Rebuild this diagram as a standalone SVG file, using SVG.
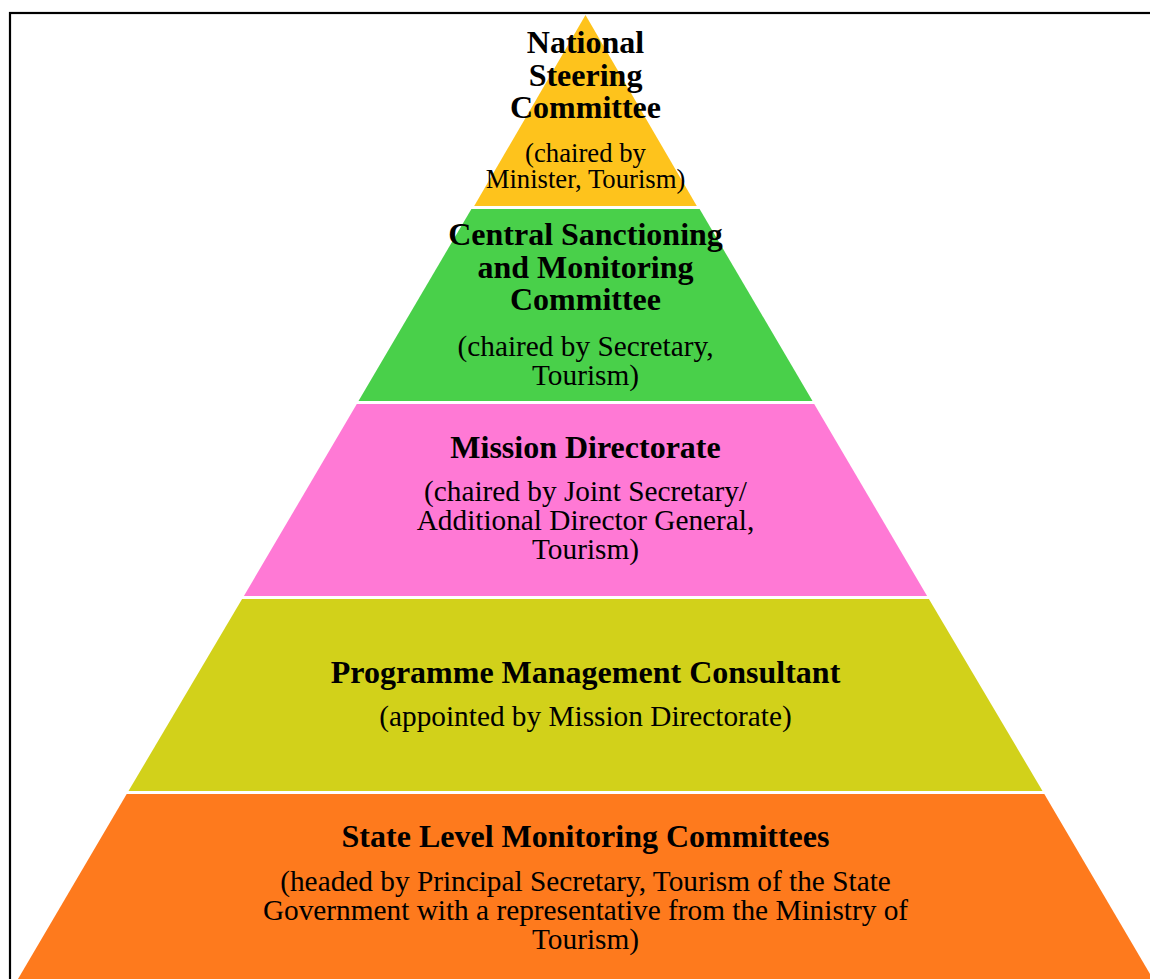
<svg xmlns="http://www.w3.org/2000/svg" width="1150" height="979" viewBox="0 0 1150 979">
<style>
.t{font-family:"Liberation Serif","Times New Roman",serif;font-weight:bold;font-size:32px;fill:#000;text-anchor:middle}
.s{font-family:"Liberation Serif","Times New Roman",serif;font-size:29.3px;fill:#000;text-anchor:middle}
.s2{font-family:"Liberation Serif","Times New Roman",serif;font-size:26.7px;fill:#000;text-anchor:middle}
</style>
<rect x="0" y="0" width="1150" height="979" fill="#fff"/>
<rect x="10" y="13" width="1160" height="1000" fill="none" stroke="#000" stroke-width="2.2"/>
<g id="national-steering-committee">
<polygon points="585.5,15 696.8,206 474.2,206" fill="#FEC31C"/>
<text class="t" x="585.5" y="53">National</text>
<text class="t" x="585.5" y="85.5">Steering</text>
<text class="t" x="585.5" y="118">Committee</text>
<text class="s2" x="585.5" y="162">(chaired by</text>
<text class="s2" x="585.5" y="188">Minister, Tourism)</text>
</g>
<g id="central-sanctioning-committee">
<polygon points="471.4,209 699.6,209 812.5,401 358.5,401" fill="#49D04A"/>
<text class="t" x="585.5" y="244.5">Central Sanctioning</text>
<text class="t" x="585.5" y="277.5">and Monitoring</text>
<text class="t" x="585.5" y="310">Committee</text>
<text class="s" x="585.5" y="356">(chaired by Secretary,</text>
<text class="s" x="585.5" y="384.5">Tourism)</text>
</g>
<g id="mission-directorate">
<polygon points="356.8,404 814.2,404 927.1,596 243.9,596" fill="#FF79D5"/>
<text class="t" x="585.5" y="458">Mission Directorate</text>
<text class="s" x="585.5" y="501">(chaired by Joint Secretary/</text>
<text class="s" x="585.5" y="530">Additional Director General,</text>
<text class="s" x="585.5" y="559">Tourism)</text>
</g>
<g id="programme-management-consultant">
<polygon points="242.1,599 928.9,599 1042.5,791 128.5,791" fill="#D2D11A"/>
<text class="t" x="585.5" y="683">Programme Management Consultant</text>
<text class="s" x="585.5" y="726">(appointed by Mission Directorate)</text>
</g>
<g id="state-level-monitoring-committees">
<polygon points="126.7,794 1044.3,794 1153,979 18,979" fill="#FE7A1D"/>
<text class="t" x="585.5" y="847">State Level Monitoring Committees</text>
<text class="s" x="585.5" y="891">(headed by Principal Secretary, Tourism of the State</text>
<text class="s" x="585.5" y="920">Government with a representative from the Ministry of</text>
<text class="s" x="585.5" y="949">Tourism)</text>
</g>
<g id="connectors"/>
</svg>
